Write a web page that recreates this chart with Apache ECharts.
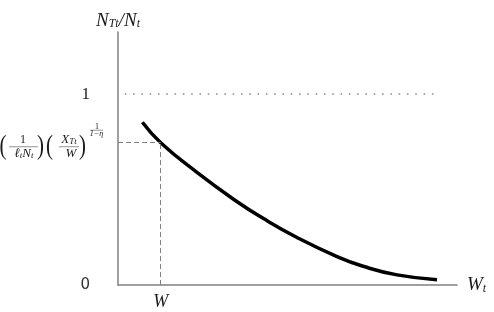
<!DOCTYPE html>
<html>
<head>
<meta charset="utf-8">
<script src="https://cdn.jsdelivr.net/npm/echarts@6/dist/echarts.min.js"></script>
<style>
html, body { margin: 0; padding: 0; background: #fff; }
#main { width: 494px; height: 312px; }
</style>
</head>
<body>
<div id="main"></div>
<script>
// 曲线的点 (横轴 0..10, 纵轴 N_Tt/N_t)
var curveX = [0.72, 1.26, 2.32, 3.45, 4.28, 5.28, 6.46, 7.23, 8.23, 9.41];
var curveY = [0.852, 0.745, 0.591, 0.444, 0.349, 0.249, 0.149, 0.098, 0.053, 0.028];
// 纵轴刻度
var yTicks = [0, 1];
// W 处的虚线
var wX = 1.26;
var wY = 0.745;
// y = 1 的点线范围
var dotFrom = 0.2;
var dotTo = 9.35;

var serif = 'Liberation Serif';
var ink = '#1a1a1a';
var gray = '#808080';

var myChart = echarts.init(document.getElementById('main'));

var nameRich = {
  n: { fontFamily: serif, fontStyle: 'italic', fontSize: 19, lineHeight: 19, verticalAlign: 'top', color: ink },
  s: { fontFamily: serif, fontStyle: 'italic', fontSize: 12, lineHeight: 12, padding: [11, 0, 0, 0], verticalAlign: 'bottom', color: ink }
};

var option = {
  animation: false,
  grid: { left: 118, right: 37, top: 32, bottom: 27 },
  xAxis: {
    type: 'value',
    min: 0,
    max: 10,
    axisLine: { show: true, lineStyle: { color: gray, width: 1.5 } },
    axisTick: { show: false },
    axisLabel: { show: false },
    splitLine: { show: false },
    name: '{n|W}{s|t}',
    nameLocation: 'end',
    nameGap: 10,
    nameTextStyle: { rich: nameRich }
  },
  yAxis: {
    type: 'value',
    min: 0,
    max: 1.325,
    interval: 1,
    axisLine: { show: true, lineStyle: { color: gray, width: 1.5 } },
    axisTick: { show: false },
    splitLine: { show: false },
    axisLabel: {
      margin: 28,
      formatter: function (v) {
        if (yTicks.indexOf(v) < 0) return '';
        return v === 0 ? '{z|0}' : '{o|' + v + '}';
      },
      rich: {
        z: { fontFamily: 'DejaVu Sans', fontSize: 15, color: '#333' },
        o: { fontFamily: serif, fontSize: 17, color: ink }
      }
    },
    name: '{n|N}{s|Tt}{n|/N}{s|t}',
    nameLocation: 'end',
    nameGap: 2,
    nameTextStyle: { rich: nameRich }
  },
  series: [{
    type: 'line',
    data: curveX.map(function (x, i) { return [x, curveY[i]]; }),
    smooth: 0.5,
    showSymbol: false,
    clip: false,
    lineStyle: { color: '#000', width: 3.5 },
    markLine: {
      silent: true,
      symbol: ['none', 'none'],
      label: { show: false },
      lineStyle: { color: gray, width: 1, type: [5, 3] },
      data: [
        [{ coord: [dotFrom, 1], lineStyle: { color: '#888', width: 1.5, type: [1.5, 6.8] } }, { coord: [dotTo, 1] }],
        [{ coord: [0, wY] }, { coord: [wX, wY] }],
        [{
          coord: [wX, 0],
          label: {
            show: true, position: 'start', distance: 8, formatter: 'W',
            fontFamily: serif, fontStyle: 'italic', fontSize: 18, color: ink
          }
        }, { coord: [wX, wY] }]
      ]
    }
  }]
};

myChart.setOption(option);

// 左侧的公式，挂在虚线的起点
var p = myChart.convertToPixel({ gridIndex: 0 }, [0, wY]);

function txt(x, y, text, size, italic, rich) {
  return {
    type: 'text', x: x, y: y, silent: true,
    style: {
      text: text, fontFamily: serif, fontSize: size,
      fontStyle: italic ? 'italic' : 'normal',
      fill: ink, align: 'center', verticalAlign: 'middle', rich: rich
    }
  };
}
// 高一点的括号
function paren(x, ch) {
  var t = txt(x, 3.5, ch, 21, false);
  t.scaleY = 1.35;
  return t;
}
function bar(x1, x2, y) {
  return { type: 'line', silent: true, shape: { x1: x1, y1: y, x2: x2, y2: y }, style: { stroke: '#666', lineWidth: 0.7 } };
}
var fracRich = {
  i: { fontFamily: serif, fontStyle: 'italic', fontSize: 13, lineHeight: 13, verticalAlign: 'top', color: ink },
  s: { fontFamily: serif, fontStyle: 'italic', fontSize: 9, lineHeight: 9, padding: [7, 0, 0, 0], verticalAlign: 'bottom', color: ink }
};

myChart.setOption({
  graphic: [{
    type: 'group',
    x: p[0],
    y: p[1],
    children: [
      paren(-115, '('),
      txt(-95, -3, '1', 12, false),
      bar(-109, -80, 4),
      txt(-94, 11, '{i|ℓ}{s|t}{i|N}{s|t}', 13, true, fracRich),
      paren(-77.5, ')'),
      paren(-68.5, '('),
      txt(-49, -3, '{i|X}{s|Tt}', 13, true, fracRich),
      bar(-59, -39, 4),
      txt(-47, 11, 'W', 13, true),
      paren(-35.5, ')'),
      txt(-21, -16, '1', 8, false),
      bar(-28, -15, -12.5),
      txt(-21.5, -8.5, '1−η', 8, true)
    ]
  }]
});
</script>
</body>
</html>
